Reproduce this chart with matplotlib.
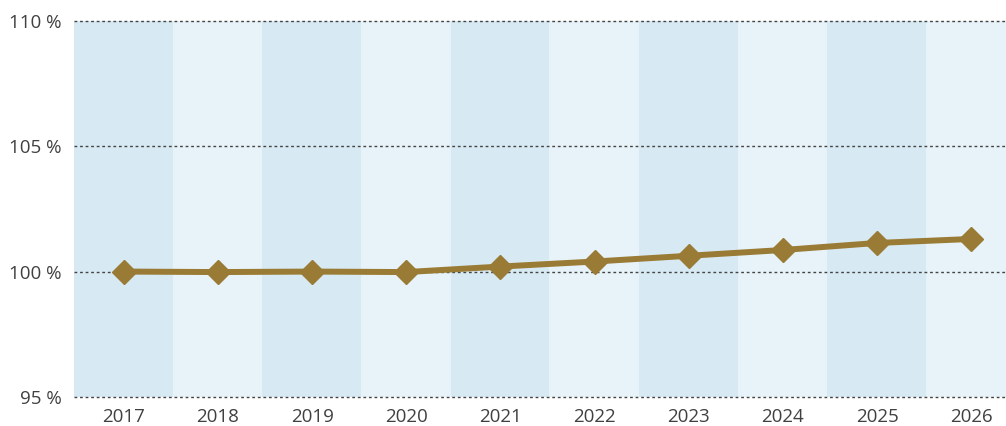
import matplotlib
matplotlib.use("Agg")
import matplotlib.pyplot as plt

# data
years = ["2017", "2018", "2019", "2020", "2021", "2022", "2023", "2024", "2025", "2026"]
values = [100.0, 99.98, 100.0, 99.98, 100.2, 100.4, 100.63, 100.86, 101.14, 101.3]
y_ticks = [95, 100, 105, 110]
y_labels = ["95 %", "100 %", "105 %", "110 %"]

plt.rcParams["font.family"] = ["Open Sans", "DejaVu Sans"]

fig = plt.figure(figsize=(10.06, 4.26), dpi=100)
ax = fig.add_axes([74 / 1006, 1 - 397 / 426, 1 - 74 / 1006, (397 - 20.7) / 426])

x = list(range(len(years)))

# alternating background bands
for i in x:
    if i % 2 == 0:
        ax.axvspan(i - 0.53, i + 0.52, color="#d7eaf3", lw=0, zorder=0)
    else:
        ax.axvspan(i - 0.48, i + 0.52, color="#e7f3f8", lw=0, zorder=0)

for t in y_ticks:
    ax.axhline(t, color="#444444", lw=1, linestyle=(0, (2, 2)), zorder=1, clip_on=False)

ax.plot(x, values, color="#9a7b35", lw=4.3, marker="D", ms=12, zorder=3)

ax.set_xlim(-0.53, 9.37)
ax.set_ylim(95, 110)
ax.set_xticks(x)
ax.set_xticklabels(years)
ax.set_yticks(y_ticks)
ax.set_yticklabels(y_labels)
ax.tick_params(axis="both", length=0, labelsize=13.5, labelcolor="#404040")
ax.tick_params(axis="y", pad=9)
ax.tick_params(axis="x", pad=8)
for s in ax.spines.values():
    s.set_visible(False)

fig.savefig("out.png", dpi=100)
